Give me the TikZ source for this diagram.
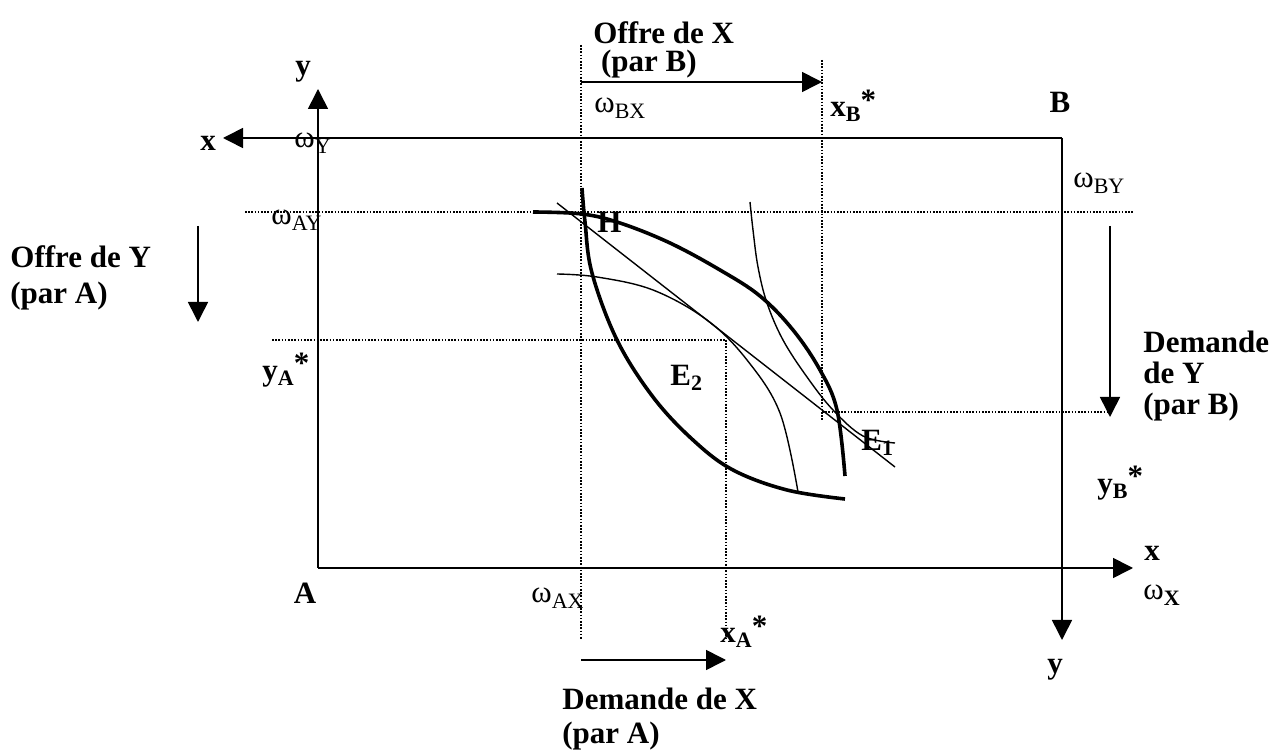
\documentclass[tikz,border=0pt]{standalone}
\usepackage{fontspec}
\setmainfont{Liberation Serif}
\usetikzlibrary{arrows.meta}
\newcommand{\omsub}[1]{\textmd{ω\raisebox{-.4ex}{\fontsize{11}{11}\selectfont #1}}}
\newcommand{\starsub}[2]{#1\raisebox{-.35ex}{\fontsize{11}{11}\selectfont #2}\raisebox{.45ex}{*}}

\begin{document}
\begin{tikzpicture}[
    x=0.5pt, y=-0.5pt,
    every node/.style={font=\fontsize{15.5}{17}\selectfont\bfseries, inner sep=0pt},
    omlab/.style={font=\fontsize{15.5}{17}\selectfont, anchor=west},
    axis/.style={line width=0.8pt, -{Triangle[length=10pt,width=10pt]}},
    flow/.style={line width=0.8pt, -{Triangle[length=10pt,width=10pt]}},
    guide/.style={line width=0.6pt, dash pattern=on 0.8pt off 0.8pt},
    curveA/.style={line width=1.8pt},
    curveB/.style={line width=0.7pt}
]
\useasboundingbox (0,0) rectangle (1276,753);

% Box corners and axis ends
\coordinate (A) at (318,568);
\coordinate (B) at (1062,138);
\coordinate (yAend) at (318,89);
\coordinate (xAend) at (1133,568);
\coordinate (xBend) at (223,138);
\coordinate (yBend) at (1062,640);

% Box axes
\draw[axis] (A) -- (yAend);
\draw[axis] (A) -- (xAend);
\draw[axis] (B) -- (xBend);
\draw[axis] (B) -- (yBend);

% Axis labels
\node (lyA) at (303,72) {y};
\node (lxB) at (208,143) {x};
\node (lB) at (1060,102) {B};
\node (lA) at (305,593) {A};
\node (lxA) at (1152,553) {x};
\node (lyB) at (1055,670) {y};
\node[omlab] (omY) at (294,143) {\omsub{Y}};
\node[omlab] (omX) at (1143,595) {\omsub{\bfseries X}};

% Endowment and equilibrium guides
\coordinate (gAYl) at (245,212);   \coordinate (gAYr) at (1133,212);
\coordinate (gyAl) at (272,340);   \coordinate (E2) at (726,340);
\coordinate (E1) at (822,412);     \coordinate (gyBr) at (1110,412);
\coordinate (gXt) at (581,45);     \coordinate (gXb) at (581,640);
\coordinate (gxBt) at (822,60);    \coordinate (gxBb) at (822,420);
\coordinate (gxAb) at (726,640);
\draw[guide] (gAYl) -- (gAYr);
\draw[guide] (gyAl) -- (E2);
\draw[guide] (E1) -- (gyBr);
\draw[guide] (gXt) -- (gXb);
\draw[guide] (gxBt) -- (gxBb);
\draw[guide] (E2) -- (gxAb);

\node[omlab] (omAY) at (271,220) {\omsub{AY}};
\node[omlab] (omBX) at (594,108) {\omsub{BX}};
\node[omlab] (omBY) at (1073,183) {\omsub{BY}};
\node[omlab] (omAX) at (531,598) {\omsub{AX}};
\node[anchor=west] (xBs) at (830,106) {\starsub{x}{B}};
\node[anchor=west] (yAs) at (262,370) {\starsub{y}{A}};
\node[anchor=west] (yBs) at (1097,483) {\starsub{y}{B}};
\node[anchor=west] (xAs) at (720,632) {\starsub{x}{A}};

% Offer and demand arrows
\coordinate (oXs) at (581,82);   \coordinate (oXe) at (822,82);
\coordinate (dXs) at (581,660);  \coordinate (dXe) at (726,660);
\coordinate (oYs) at (198,226);  \coordinate (oYe) at (198,322);
\coordinate (dYs) at (1110,226); \coordinate (dYe) at (1110,417);
\draw[flow] (oXs) -- (oXe);
\draw[flow] (dXs) -- (dXe);
\draw[flow] (oYs) -- (oYe);
\draw[flow] (dYs) -- (dYe);

\node[anchor=north west, align=left] (offX) at (593,21) {Offre de X\\[-3pt]\hspace{0.25em}(par B)};
\node[anchor=north west, align=left] (offY) at (10,245) {Offre de Y\\[1pt](par A)};
\node[anchor=north west, align=left] (demY) at (1143,331) {Demande\\[-1.5pt]de Y\\[-1.5pt](par B)};
\node[anchor=north west, align=left] (demX) at (562,688) {Demande de X\\(par A)};

% Indifference curves
\draw[curveA] plot[smooth, tension=0.6] coordinates {(582,188) (585,222) (592,273) (617,340) (653,397) (693,440) (733,470) (787,490) (845,499)};
\draw[curveA] plot[smooth, tension=0.6] coordinates {(533,212) (582,214) (620,223) (670,243) (720,270) (760,296) (793,330) (820,370) (837,410) (845,476)};
\draw[curveB] plot[smooth, tension=0.6] coordinates {(557,274) (597,277) (653,290) (707,320) (747,360) (780,413) (798,492)};
\draw[curveB] plot[smooth, tension=0.6] coordinates {(750,202) (753,230) (758,267) (767,303) (783,340) (807,377) (833,410) (863,436) (895,443)};

% Price line through H
\coordinate (pl1) at (557,203);
\coordinate (pl2) at (895,467);
\draw[curveB] (pl1) -- (pl2);

\node[anchor=west] (H) at (597,222) {H};
\node[anchor=west] (lE2) at (670,378) {E\raisebox{-.35ex}{\fontsize{11}{11}\selectfont 2}};
\node[anchor=west] (lE1) at (861,443) {E\raisebox{-.35ex}{\fontsize{11}{11}\selectfont 1}};
\end{tikzpicture}
\end{document}
